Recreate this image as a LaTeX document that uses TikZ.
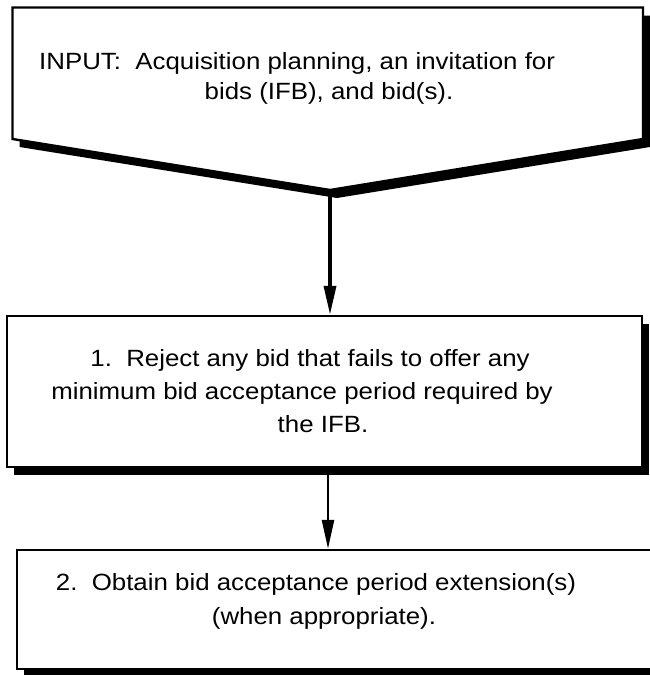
\documentclass[tikz,border=0pt]{standalone}
\usepackage{fontspec}
\setmainfont{Liberation Sans}[FakeStretch=1.1]
\usetikzlibrary{arrows.meta,shadows}
\begin{document}
\begin{tikzpicture}[x=1pt,y=-1pt,
  boxshadow/.style={drop shadow={shadow xshift=7pt,shadow yshift=-8pt,fill=black,opacity=1}},
  outline/.style={draw,line width=2.4pt,fill=white,boxshadow},
  flowbox/.style={outline,rectangle,inner sep=0pt},
  txt/.style={inner sep=0pt,font=\fontsize{23.5}{28}\selectfont},
  conn/.style={-{Triangle[length=29pt,width=12pt]}}
]
\clip (0,0) rectangle (650,675);
% input pentagon
\path[outline] (12.5,7.5) -- (643,7.5) -- (643,139) -- (330,190) -- (12.5,139) -- cycle;
\coordinate (apex) at (330,190);
% step boxes
\node[flowbox, minimum width=635.3pt, minimum height=151pt] (b1) at (324.35,391.5) {};
\node[flowbox, minimum width=643.3pt, minimum height=119pt] (b2) at (338.35,609.5) {};
% connectors
\draw[conn, line width=3.5pt] (apex) -- (apex |- b1.north);
\coordinate (a2) at (328,467);
\draw[conn, line width=2.5pt] (a2) -- (a2 |- b2.north);
% texts
\node[txt, anchor=base west] (t0a) at (39,69) {INPUT:\ \ Acquisition planning, an invitation for};
\node[txt, anchor=base] (t0b) at (329,99) {bids (IFB), and bid(s).};
\node[txt, anchor=base] (t1a) at (310,366) {1.\ \ Reject any bid that fails to offer any};
\node[txt, anchor=base] (t1b) at (302,399) {minimum bid acceptance period required by};
\node[txt, anchor=base] (t1c) at (323,432) {the IFB.};
\node[txt, anchor=base] (t2a) at (316,590) {2.\ \ Obtain bid acceptance period extension(s)};
\node[txt, anchor=base] (t2b) at (324,624) {(when appropriate).};
\end{tikzpicture}
\end{document}
